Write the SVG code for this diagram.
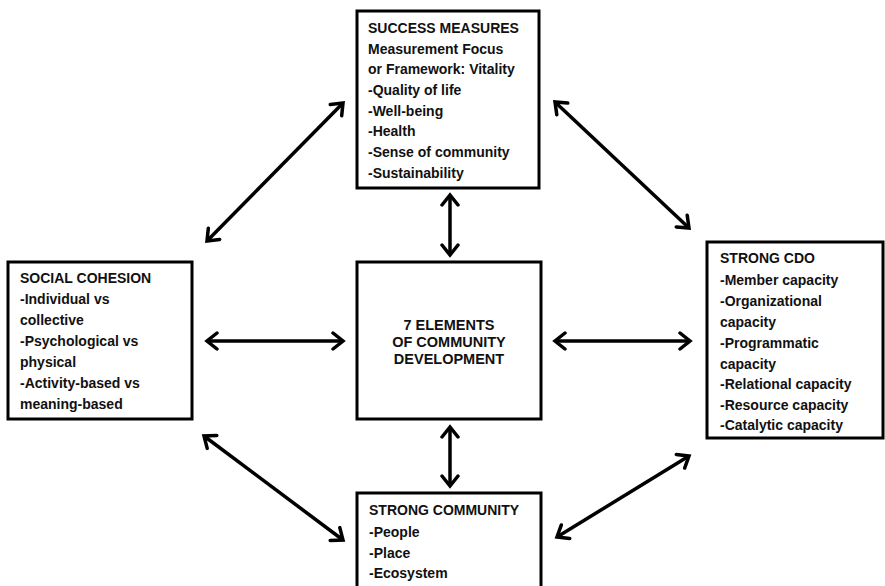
<svg xmlns="http://www.w3.org/2000/svg" width="885" height="586" viewBox="0 0 885 586">
<style>
.box{fill:#fff;stroke:#000;stroke-width:3}
.t{font-family:"Liberation Sans",Arial,sans-serif;font-weight:bold;font-size:14px;fill:#111}
.c{font-family:"Liberation Sans",Arial,sans-serif;font-weight:bold;font-size:14.5px;fill:#111;text-anchor:middle}
.ar{stroke:#000;stroke-width:3.5;fill:none;marker-start:url(#ah);marker-end:url(#ah)}
</style>
<defs>
<marker id="ah" markerUnits="userSpaceOnUse" viewBox="-16 -10 20 20" refX="0" refY="0" markerWidth="20" markerHeight="20" orient="auto-start-reverse">
<path d="M-10,-8 L0,0 L-10,8" fill="none" stroke="#000" stroke-width="3.5" stroke-linecap="round"/>
</marker>
</defs>
<rect width="885" height="586" fill="#fff"/>
<g id="connectors">
<line class="ar" x1="343" y1="103" x2="207" y2="241"/>
<line class="ar" x1="555" y1="102" x2="689" y2="228"/>
<line class="ar" x1="450" y1="195" x2="450" y2="255"/>
<line class="ar" x1="450" y1="427" x2="450" y2="486"/>
<line class="ar" x1="207" y1="341" x2="343" y2="341"/>
<line class="ar" x1="555" y1="341" x2="690" y2="341"/>
<line class="ar" x1="204" y1="436" x2="343" y2="540"/>
<line class="ar" x1="557" y1="537" x2="689" y2="456"/>
</g>
<g id="success-measures">
<rect class="box" x="357" y="11" width="182" height="177"/>
<text class="t" x="368" y="33">SUCCESS MEASURES</text>
<text class="t" x="368" y="54">Measurement Focus</text>
<text class="t" x="368" y="74">or Framework: Vitality</text>
<text class="t" x="368" y="95">-Quality of life</text>
<text class="t" x="368" y="116">-Well-being</text>
<text class="t" x="368" y="136">-Health</text>
<text class="t" x="368" y="157">-Sense of community</text>
<text class="t" x="368" y="178">-Sustainability</text>
</g>
<g id="social-cohesion">
<rect class="box" x="8" y="262" width="184" height="157"/>
<text class="t" x="20" y="283">SOCIAL COHESION</text>
<text class="t" x="20" y="304">-Individual vs</text>
<text class="t" x="20" y="325">collective</text>
<text class="t" x="20" y="346">-Psychological vs</text>
<text class="t" x="20" y="367">physical</text>
<text class="t" x="20" y="388">-Activity-based vs</text>
<text class="t" x="20" y="409">meaning-based</text>
</g>
<g id="seven-elements">
<rect class="box" x="357" y="262" width="184" height="157"/>
<text class="c" x="449" y="330">7 ELEMENTS</text>
<text class="c" x="449" y="347">OF COMMUNITY</text>
<text class="c" x="449" y="364">DEVELOPMENT</text>
</g>
<g id="strong-cdo">
<rect class="box" x="707" y="242" width="176" height="196"/>
<text class="t" x="720" y="263">STRONG CDO</text>
<text class="t" x="720" y="285">-Member capacity</text>
<text class="t" x="720" y="306">-Organizational</text>
<text class="t" x="720" y="327">capacity</text>
<text class="t" x="720" y="348">-Programmatic</text>
<text class="t" x="720" y="369">capacity</text>
<text class="t" x="720" y="389">-Relational capacity</text>
<text class="t" x="720" y="410">-Resource capacity</text>
<text class="t" x="720" y="430">-Catalytic capacity</text>
</g>
<g id="strong-community">
<rect class="box" x="357" y="493" width="184" height="110"/>
<text class="t" x="369" y="515">STRONG COMMUNITY</text>
<text class="t" x="369" y="537">-People</text>
<text class="t" x="369" y="558">-Place</text>
<text class="t" x="369" y="578">-Ecosystem</text>
</g>
</svg>
